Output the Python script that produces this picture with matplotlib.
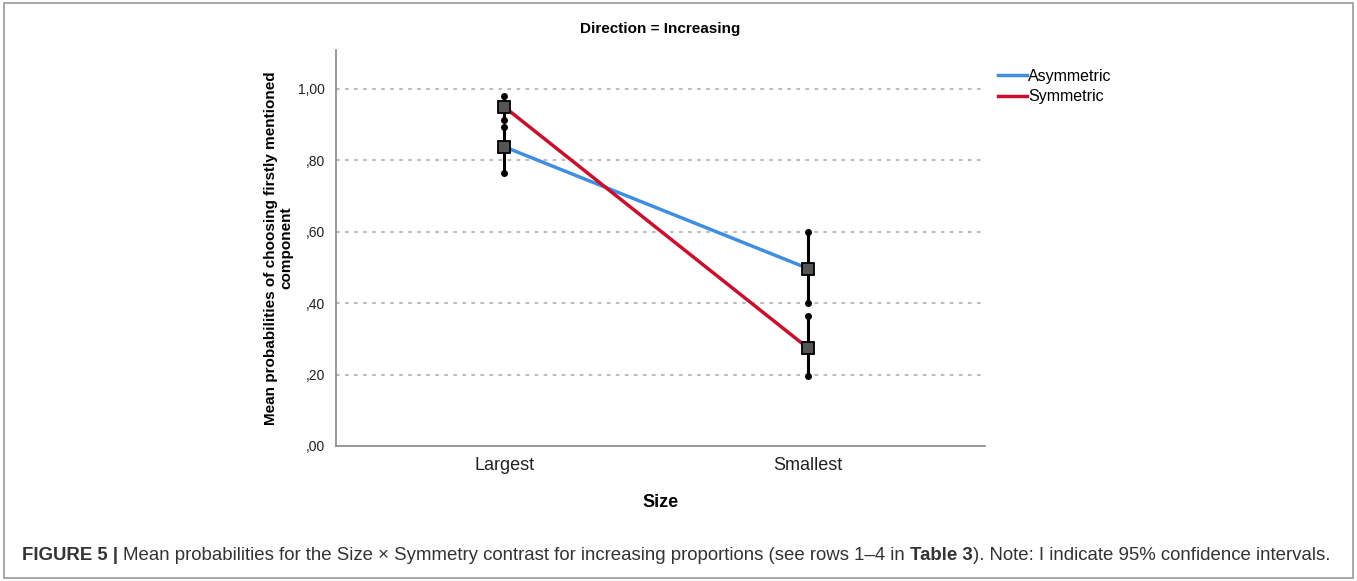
import matplotlib.pyplot as plt
from matplotlib.patches import Rectangle

plt.rcParams['font.family'] = ['Liberation Sans', 'DejaVu Sans']

categories = ["Largest", "Smallest"]
series = ["Asymmetric", "Symmetric"]
means = {"Asymmetric": [0.838, 0.497], "Symmetric": [0.950, 0.274]}
ci_low = {"Asymmetric": [0.764, 0.400], "Symmetric": [0.913, 0.197]}
ci_high = {"Asymmetric": [0.894, 0.600], "Symmetric": [0.979, 0.364]}
colors = {"Asymmetric": "#3f8fde", "Symmetric": "#c8102e"}
yticks = [0.0, 0.2, 0.4, 0.6, 0.8, 1.0]
ytick_labels = [",00", ",20", ",40", ",60", ",80", "1,00"]

fig = plt.figure(figsize=(13.57, 5.81), dpi=100)
ax = fig.add_axes([0.2476, 0.2324, 0.4783, 0.6816])

x = list(range(len(categories)))
for s in series:
    ax.plot(x, means[s], color=colors[s], lw=2.5, label=s, zorder=2)

for s in series:
    ax.vlines(x, ci_low[s], ci_high[s], color="black", lw=2.2, zorder=3)
    ax.plot(x, ci_low[s], "o", color="black", ms=4, zorder=4)
    ax.plot(x, ci_high[s], "o", color="black", ms=4, zorder=4)
    ax.plot(x, means[s], "s", ms=9, mfc="#555555", mec="black", mew=1.3, zorder=5)

ax.set_xlim(-0.553, 1.582)
ax.set_ylim(0, 1.109)
ax.set_xticks(x)
ax.set_xticklabels(categories, fontsize=13, color="#222222")
ax.set_yticks(yticks)
ax.set_yticklabels(ytick_labels, fontsize=10, color="#222222")
ax.tick_params(length=0, pad=8)
ax.tick_params(axis="y", pad=8)
for yv in yticks[1:]:
    ax.axhline(yv, color="#b5b5b5", lw=1.3, ls=(0, (2, 3)), zorder=1)
for side in ["top", "right"]:
    ax.spines[side].set_visible(False)
ax.spines["left"].set_color("#888888")
ax.spines["bottom"].set_color("#888888")
ax.spines["left"].set_linewidth(1.2)
ax.spines["bottom"].set_linewidth(1.2)

ax.set_title("Direction = Increasing", fontsize=11, fontweight="bold",
             fontstretch="condensed", pad=12)
ax.set_xlabel("Size", fontsize=13, fontweight="bold", labelpad=14)
ax.set_ylabel("Mean probabilities of choosing firstly mentioned\ncomponent",
              fontsize=11, fontweight="bold", labelpad=3)

ax.legend(loc="upper left", bbox_to_anchor=(1.0, 0.985), frameon=False,
          fontsize=11.5, handlelength=1.8, handletextpad=0.1, labelspacing=0.35,
          borderaxespad=0.4)

fig.patches.append(Rectangle((0.003, 0.005), 0.994, 0.99, transform=fig.transFigure,
                             fill=False, ec="#9a9a9a", lw=1.2))

# caption with mixed bold/normal segments
segments = [("FIGURE 5 | ", "bold"),
            ("Mean probabilities for the Size \u00d7 Symmetry contrast for increasing proportions (see rows 1\u20134 in ", "normal"),
            ("Table 3", "bold"),
            ("). Note: I indicate 95% confidence intervals.", "normal")]
fig.canvas.draw()
renderer = fig.canvas.get_renderer()
xpos = 22
for txt, w in segments:
    t = fig.text(xpos / 1357, 1 - 556 / 581, txt, fontsize=13.4, fontweight=w,
                 color="#333333", va="center", ha="left")
    bb = t.get_window_extent(renderer)
    xpos += bb.width

fig.savefig("out.png", dpi=100)
